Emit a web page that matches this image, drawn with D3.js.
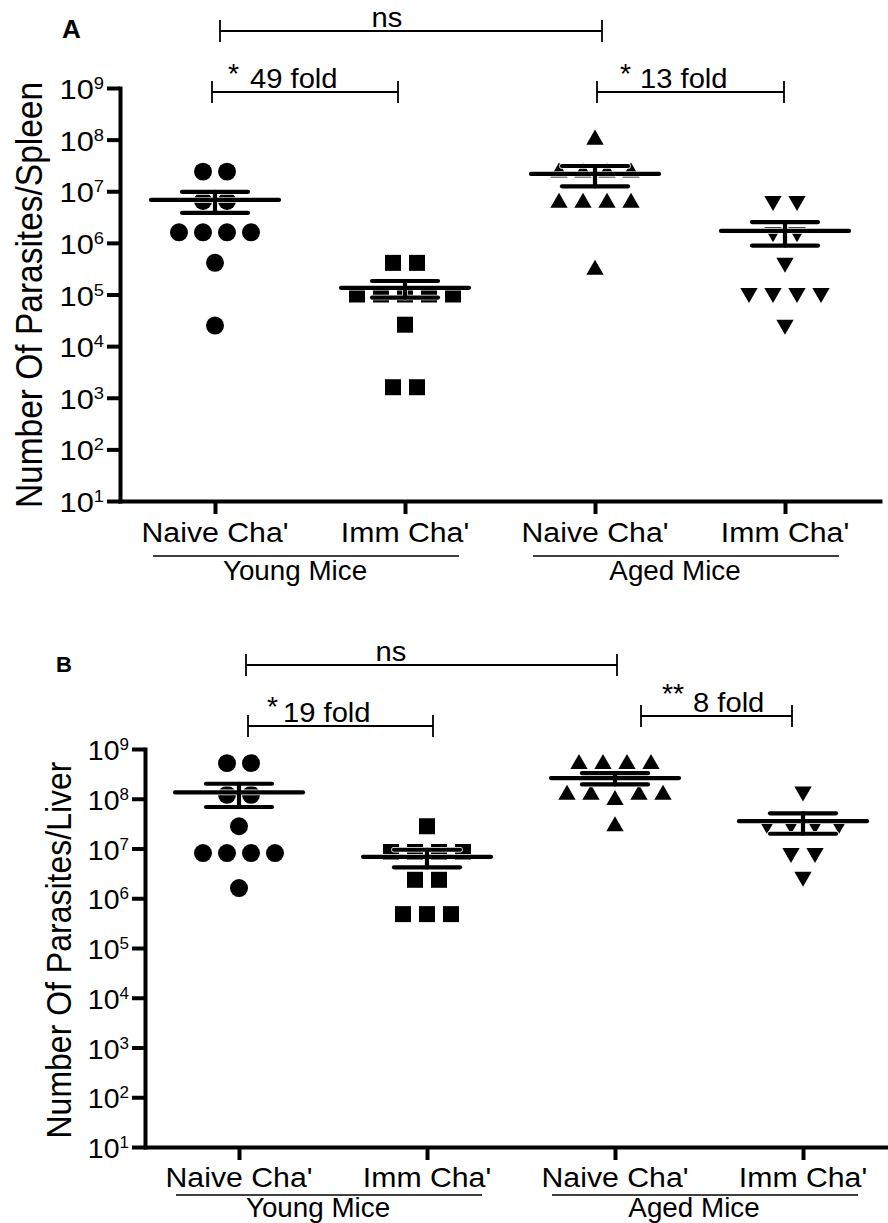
<!DOCTYPE html>
<html>
<head>
<meta charset="utf-8">
<script src="https://cdn.jsdelivr.net/npm/d3@7"></script>
<style>
  body { margin: 0; background: #fff; }
  svg { display: block; }
  text { font-family: "Liberation Sans", Arial, sans-serif; fill: #000; }
</style>
</head>
<body>
<div id="chart"></div>
<script>
// Categories and groups
const categories = ["Naive Cha'", "Imm Cha'", "Naive Cha'", "Imm Cha'"];
const groupNames = ["Young Mice", "Aged Mice"];
const tickExponents = [1, 2, 3, 4, 5, 6, 7, 8, 9];

// Panel A: parasites per spleen
const spleenYoungNaive = [2.4e7, 2.4e7, 6.5e6, 6.5e6, 1.6e6, 1.6e6, 1.6e6, 1.6e6, 4.1e5, 2.5e4];
const spleenYoungImm   = [4.1e5, 4.1e5, 1.0e5, 1.0e5, 1.0e5, 1.0e5, 1.0e5, 2.6e4, 1.6e3, 1.6e3];
const spleenAgedNaive  = [1.0e8, 2.3e7, 2.3e7, 2.3e7, 2.3e7, 6.0e6, 6.0e6, 6.0e6, 6.0e6, 3.0e5];
const spleenAgedImm    = [6.5e6, 6.5e6, 1.6e6, 1.6e6, 4.1e5, 1.07e5, 1.07e5, 1.07e5, 1.07e5, 2.6e4];

// Panel B: parasites per liver
const liverYoungNaive = [5.2e8, 5.2e8, 1.2e8, 1.2e8, 2.8e7, 8.1e6, 8.1e6, 8.1e6, 8.1e6, 1.6e6];
const liverYoungImm   = [2.8e7, 8.5e6, 8.5e6, 8.5e6, 8.5e6, 2.35e6, 2.35e6, 4.8e5, 4.8e5, 4.8e5];
const liverAgedNaive  = [5.0e8, 5.0e8, 5.0e8, 5.0e8, 1.2e8, 1.2e8, 9.4e7, 1.2e8, 1.2e8, 2.8e7];
const liverAgedImm    = [1.4e8, 3.1e7, 3.1e7, 3.1e7, 3.1e7, 8.1e6, 8.1e6, 2.7e6];

const width = 888, height = 1223;
const svg = d3.select("#chart").append("svg")
    .attr("width", width)
    .attr("height", height)
    .attr("viewBox", `0 0 ${width} ${height}`);

// text is a little wider than the font in the original export
function addText(g, x, y, str, size, opts = {}) {
    return g.append("text")
        .attr("transform", `translate(${x},${y}) scale(${opts.sx ?? 1.1},1)`)
        .attr("text-anchor", opts.anchor ?? "start")
        .style("font-size", size + "px")
        .style("font-weight", opts.weight ?? "normal")
        .text(str);
}

// spread points that share a height side by side
function swarm(values, y, spacing) {
    const pts = values.map((v, i) => ({ v: v, i: i, py: y(v) }));
    const sorted = pts.slice().sort((a, b) => a.py - b.py);
    const rows = [];
    sorted.forEach(p => {
        const last = rows[rows.length - 1];
        if (last && p.py - last[last.length - 1].py < 12) last.push(p);
        else rows.push([p]);
    });
    rows.forEach(r => {
        r.sort((a, b) => a.i - b.i);
        r.forEach((p, k) => { p.dx = (k - (r.length - 1) / 2) * spacing; });
    });
    return pts;
}

const symbols = [d3.symbolCircle, d3.symbolSquare, d3.symbolTriangle, d3.symbolTriangle];
const symbolSizes = [254, 256, 130, 130];
const symbolRotate = [0, 0, 0, 180];

function drawPanel(p) {
    const g = svg.append("g");
    const x = d3.scalePoint().domain(d3.range(categories.length)).range(p.xRange).padding(0.5);
    const y = d3.scaleLog().domain([10, 1e9]).range(p.yRange);
    const axisX = p.xRange[0], axisY = p.yRange[0];

    // Y axis
    g.append("g")
        .attr("transform", `translate(${axisX},0)`)
        .call(d3.axisLeft(y).tickValues(tickExponents.map(e => Math.pow(10, e)))
            .tickSize(13).tickSizeOuter(0).tickFormat(""));

    // X axis
    g.append("g")
        .attr("transform", `translate(0,${axisY})`)
        .call(d3.axisBottom(x).tickSize(13).tickSizeOuter(0).tickFormat(""));

    g.selectAll(".domain").attr("stroke", "#000").attr("stroke-width", 4).attr("stroke-linecap", "square");
    g.selectAll(".tick line").attr("stroke", "#000").attr("stroke-width", 4);

    // Y tick labels 10^n
    tickExponents.forEach(e => {
        const t = g.append("text")
            .attr("transform", `translate(${axisX - 16},${y(Math.pow(10, e)) + 11}) scale(${p.ySx},1)`)
            .attr("text-anchor", "end")
            .style("font-size", "28.5px")
            .text("10");
        t.append("tspan").attr("dy", -10).style("font-size", "17px").text(e);
    });

    // X tick labels
    categories.forEach((c, i) => addText(g, x(i), p.labelY, c, 27.5, { anchor: "middle" }));

    // group underline and label
    groupNames.forEach((name, k) => {
        const mid = (x(2 * k) + x(2 * k + 1)) / 2;
        g.append("line")
            .attr("x1", mid - 4 - 153).attr("x2", mid - 4 + 153)
            .attr("y1", p.underlineY).attr("y2", p.underlineY)
            .attr("stroke", "#000").attr("stroke-width", 1.6);
        addText(g, mid - 15, p.groupY, name, 27, { anchor: "middle", sx: 1.03 });
    });

    // Y axis title
    g.append("text")
        .attr("transform", `translate(${p.titleX},${p.titleY}) rotate(-90) scale(1,1.12)`)
        .attr("text-anchor", "middle")
        .style("font-size", p.titleSize + "px")
        .text(p.title);

    // Panel letter
    addText(g, p.letterX, p.letterY, p.letter, p.letterSize, { weight: "bold", sx: 1 });

    // Points
    p.series.forEach((vals, i) => {
        const pts = swarm(vals, y, 24);
        g.append("g").selectAll("path")
            .data(pts)
            .join("path")
            .attr("d", d3.symbol(symbols[i], symbolSizes[i]))
            .attr("transform", d => `translate(${x(i) + d.dx},${d.py}) rotate(${symbolRotate[i]})`)
            .attr("fill", "#000");
    });

    // Mean and SEM bars
    p.series.forEach((vals, i) => {
        const m = d3.mean(vals);
        const sem = d3.deviation(vals) / Math.sqrt(vals.length);
        const cx = x(i);
        const segs = [
            [cx - 64, y(m), cx + 64, y(m)],
            [cx - 33, y(m + sem), cx + 33, y(m + sem)],
            [cx - 33, y(m - sem), cx + 33, y(m - sem)],
            [cx, y(m + sem), cx, y(m - sem)]
        ];
        const eb = g.append("g");
        [["#fff", 5.6], ["#000", 4.2]].forEach(([col, w]) => {
            eb.selectAll(null)
                .data(segs)
                .join("line")
                .attr("x1", d => d[0]).attr("y1", d => d[1])
                .attr("x2", d => d[2]).attr("y2", d => d[3])
                .attr("stroke", col).attr("stroke-width", w)
                .attr("stroke-linecap", "round");
        });
    });

    // Significance brackets
    p.brackets.forEach(b => {
        const x1 = x(b.from) + b.x1Off, x2 = x(b.to) + b.x2Off;
        const bg = g.append("g").attr("stroke", "#000").attr("stroke-width", 1.8);
        bg.append("line").attr("x1", x1).attr("x2", x2).attr("y1", b.y).attr("y2", b.y);
        bg.append("line").attr("x1", x1).attr("x2", x1).attr("y1", b.y - 11).attr("y2", b.y + 11);
        bg.append("line").attr("x1", x2).attr("x2", x2).attr("y1", b.y - 11).attr("y2", b.y + 11);
        if (b.stars) addText(g, x1 + b.starOff, b.y - 4 - b.starRaise, b.stars, 27, { sx: 1.05 });
        addText(g, x1 + b.textOff, b.y - 4, b.text, 27, { anchor: b.anchor ?? "start", sx: 1.08 });
    });
}

drawPanel({
    series: [spleenYoungNaive, spleenYoungImm, spleenAgedNaive, spleenAgedImm],
    xRange: [120, 880], yRange: [501, 88], ySx: 1.08,
    labelY: 542, underlineY: 556, groupY: 580,
    title: "Number Of Parasites/Spleen", titleX: 42, titleY: 295, titleSize: 33.5,
    letter: "A", letterX: 62, letterY: 38, letterSize: 26,
    brackets: [
        { from: 0, to: 2, x1Off: 5, x2Off: 7, y: 31, text: "ns", textOff: 167, anchor: "middle" },
        { from: 0, to: 1, x1Off: -3, x2Off: -7, y: 92, stars: "*", starOff: 16, starRaise: 5, text: "49 fold", textOff: 38 },
        { from: 2, to: 3, x1Off: 2, x2Off: -1, y: 92, stars: "*", starOff: 23, starRaise: 5, text: "13 fold", textOff: 43 }
    ]
});

drawPanel({
    series: [liverYoungNaive, liverYoungImm, liverAgedNaive, liverAgedImm],
    xRange: [145, 897], yRange: [1147, 749], ySx: 1.0,
    labelY: 1187, underlineY: 1195, groupY: 1217,
    title: "Number Of Parasites/Liver", titleX: 71, titleY: 950, titleSize: 32,
    letter: "B", letterX: 56, letterY: 672, letterSize: 22,
    brackets: [
        { from: 0, to: 2, x1Off: 7, x2Off: 2, y: 665, text: "ns", textOff: 145, anchor: "middle" },
        { from: 0, to: 1, x1Off: 9, x2Off: 6, y: 726, stars: "*", starOff: 19, starRaise: 6, text: "19 fold", textOff: 35 },
        { from: 2, to: 3, x1Off: 26, x2Off: -11, y: 716, stars: "**", starOff: 21, starRaise: 9, text: "8 fold", textOff: 52 }
    ]
});
</script>
</body>
</html>
